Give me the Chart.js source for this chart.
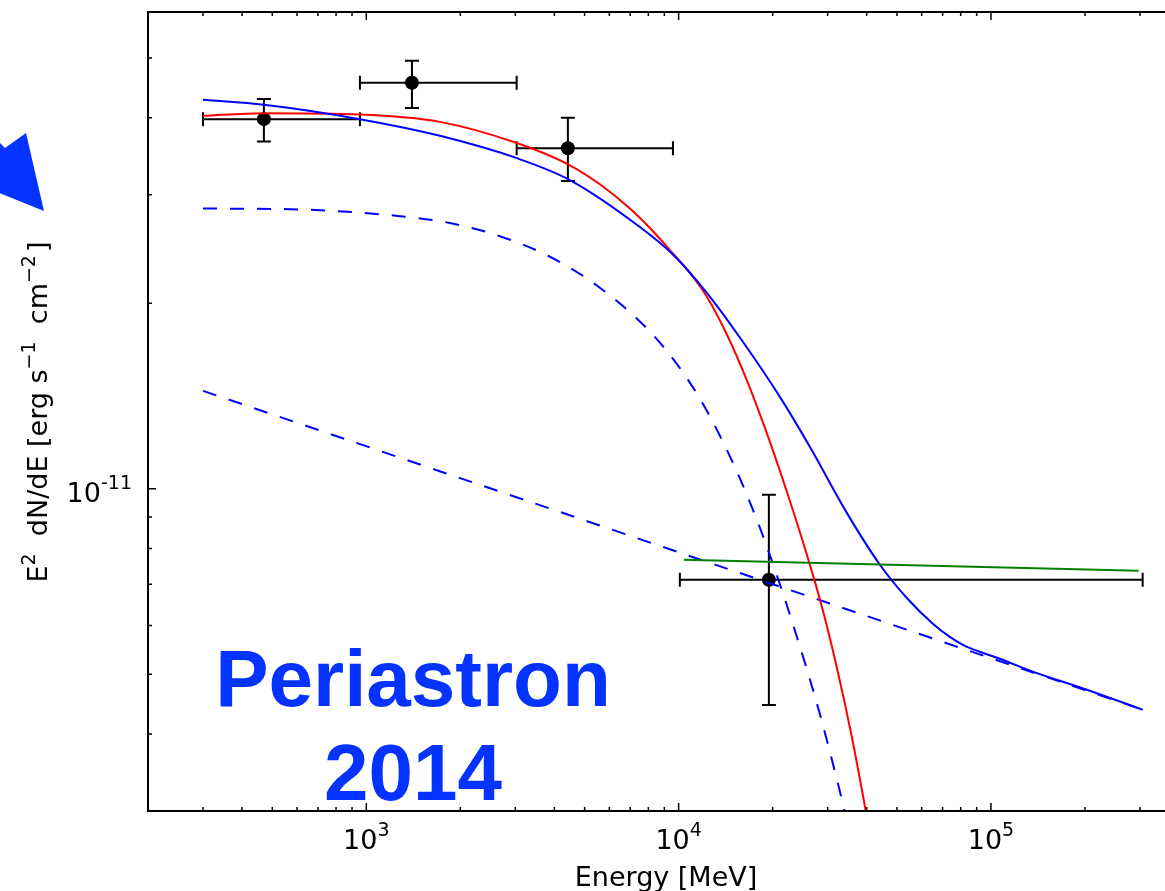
<!DOCTYPE html>
<html>
<head>
<meta charset="utf-8">
<title>Periastron 2014 SED</title>
<script src="https://cdn.jsdelivr.net/npm/chart.js@4.4.1/dist/chart.umd.min.js"></script>
<style>
  html, body { margin: 0; padding: 0; background: #fff; overflow: hidden; }
  canvas { display: block; }
</style>
</head>
<body>
<canvas id="sed" width="1200" height="891"></canvas>
<script>
// Fermi-LAT flux points (MeV, erg s^-1 cm^-2)
const energy = [470, 1400, 4420, 19450];
const flux = [3.98e-11, 4.56e-11, 3.57e-11, 7.12e-12];
const binLow = [300, 954, 3030, 10090];
const binHigh = [954, 3030, 9590, 306000];
const fluxLow = [3.66e-11, 4.15e-11, 3.16e-11, 4.46e-12];
const fluxHigh = [4.29e-11, 4.95e-11, 4.0e-11, 9.78e-12];

// total model (cutoff + power law)
const totalE = [300, 470, 954, 1721, 3035, 4486, 7516, 9585, 12312, 15707, 21097, 26310, 34557,
  44100, 53780, 65150, 73840, 82470, 92100, 106700, 136100, 202700, 306200];
const totalF = [4.28e-11, 4.20e-11, 3.98e-11, 3.74e-11, 3.44e-11, 3.17e-11, 2.66e-11, 2.40e-11, 2.08e-11,
  1.76e-11, 1.41e-11, 1.17e-11, 9.14e-12, 7.53e-12, 6.65e-12, 6.04e-12, 5.75e-12, 5.56e-12,
  5.44e-12, 5.30e-12, 5.05e-12, 4.72e-12, 4.38e-12];

// single cutoff model
const redE = [300, 467, 954, 1721, 3035, 4486, 5596, 6982, 8091, 9585, 10864, 12312, 14271, 16538,
  19170, 22210, 25733, 28740, 32103, 35850, 39740, 41240];
const redF = [4.03e-11, 4.07e-11, 4.05e-11, 3.94e-11, 3.64e-11, 3.35e-11, 3.12e-11, 2.85e-11, 2.65e-11,
  2.41e-11, 2.24e-11, 2.05e-11, 1.78e-11, 1.50e-11, 1.23e-11, 9.89e-12, 7.82e-12, 6.44e-12,
  5.13e-12, 3.96e-12, 3.00e-12, 2.70e-12];

// cutoff component
const cutE = [300, 613, 1281, 1852, 2678, 3872, 5596, 8091, 10092, 11700, 13553, 15707, 18199,
  21097, 24445, 28325, 32820, 35330];
const cutF = [2.85e-11, 2.84e-11, 2.77e-11, 2.70e-11, 2.57e-11, 2.38e-11, 2.12e-11, 1.80e-11, 1.57e-11,
  1.40e-11, 1.22e-11, 1.04e-11, 8.65e-12, 7.00e-12, 5.55e-12, 4.31e-12, 3.23e-12, 2.76e-12];

// power-law component
const plE = [300, 306200];
const plF = [1.442e-11, 4.38e-12];

// high energy power law
const greenE = [10400, 297000];
const greenF = [7.67e-12, 7.36e-12];

const xMajor = [1e3, 1e4, 1e5];
const xMajorExp = ['3', '4', '5'];
const yMajor = [1e-11];
const yMajorExp = ['-11'];

const BLUE_TXT = '#0433ff';
const MAIN = '27px "DejaVu Sans"';
const SUP = '19px "DejaVu Sans"';

function pts(xs, ys) {
  return xs.map((x, i) => ({ x: x, y: ys[i] }));
}

function curve(xs, ys, color, dash) {
  return {
    data: pts(xs, ys),
    showLine: true,
    borderColor: color,
    borderWidth: 2,
    borderDash: dash || [],
    pointRadius: 0,
    cubicInterpolationMode: 'monotone',
    fill: false
  };
}

function richWidth(ctx, runs) {
  let w = 0;
  runs.forEach(r => { ctx.font = r.font; w += ctx.measureText(r.t).width + (r.gap || 0); });
  return w;
}

function drawRich(ctx, runs, x, y, align) {
  const w = richWidth(ctx, runs);
  let cx = align === 'center' ? x - w / 2 : align === 'right' ? x - w : x;
  ctx.textAlign = 'left';
  ctx.textBaseline = 'alphabetic';
  runs.forEach(r => {
    ctx.font = r.font;
    ctx.fillText(r.t, cx, y - (r.rise || 0));
    cx += ctx.measureText(r.t).width + (r.gap || 0);
  });
}

// error bars under the markers
const errorBars = {
  id: 'errorBars',
  beforeDatasetsDraw(chart) {
    const ctx = chart.ctx, xs = chart.scales.x, ys = chart.scales.y;
    ctx.save();
    ctx.strokeStyle = '#000';
    ctx.lineWidth = 2;
    const cap = 7;
    energy.forEach((e, i) => {
      const px = xs.getPixelForValue(e), py = ys.getPixelForValue(flux[i]);
      const x0 = xs.getPixelForValue(binLow[i]), x1 = xs.getPixelForValue(binHigh[i]);
      const y0 = ys.getPixelForValue(fluxLow[i]), y1 = ys.getPixelForValue(fluxHigh[i]);
      ctx.beginPath();
      ctx.moveTo(x0, py); ctx.lineTo(x1, py);
      ctx.moveTo(x0, py - cap); ctx.lineTo(x0, py + cap);
      ctx.moveTo(x1, py - cap); ctx.lineTo(x1, py + cap);
      ctx.moveTo(px, y0); ctx.lineTo(px, y1);
      ctx.moveTo(px - cap, y0); ctx.lineTo(px + cap, y0);
      ctx.moveTo(px - cap, y1); ctx.lineTo(px + cap, y1);
      ctx.stroke();
    });
    ctx.restore();
  }
};

// box frame, inward ticks, labels and the slide annotation
const frame = {
  id: 'frame',
  afterDatasetsDraw(chart) {
    const ctx = chart.ctx, a = chart.chartArea;
    const xs = chart.scales.x, ys = chart.scales.y;
    ctx.save();
    ctx.strokeStyle = '#000';
    ctx.lineWidth = 2;
    ctx.strokeRect(a.left, a.top, a.right - a.left, a.bottom - a.top);

    ctx.lineWidth = 1.5;
    ctx.beginPath();
    for (let d = 100; d <= 1e6; d *= 10) {
      for (let m = 1; m <= 9; m++) {
        const v = d * m;
        if (v < xs.min || v > xs.max) continue;
        const len = m === 1 ? 8 : 4;
        const px = xs.getPixelForValue(v);
        ctx.moveTo(px, a.bottom); ctx.lineTo(px, a.bottom - len);
        ctx.moveTo(px, a.top); ctx.lineTo(px, a.top + len);
      }
    }
    for (let d = 1e-12; d <= 1e-10; d *= 10) {
      for (let m = 1; m <= 9; m++) {
        const v = d * m;
        if (v < ys.min || v > ys.max) continue;
        const len = m === 1 ? 8 : 4;
        const py = ys.getPixelForValue(v);
        ctx.moveTo(a.left, py); ctx.lineTo(a.left + len, py);
        ctx.moveTo(a.right, py); ctx.lineTo(a.right - len, py);
      }
    }
    ctx.stroke();

    ctx.fillStyle = '#000';
    xMajor.forEach((v, i) => {
      drawRich(ctx, [{ t: '10', font: MAIN }, { t: xMajorExp[i], font: SUP, rise: 13 }],
        xs.getPixelForValue(v), 849, 'center');
    });
    yMajor.forEach((v, i) => {
      drawRich(ctx, [{ t: '10', font: MAIN }, { t: yMajorExp[i], font: SUP, rise: 13 }],
        132, ys.getPixelForValue(v) + 13, 'right');
    });

    ctx.font = MAIN;
    ctx.textAlign = 'center';
    ctx.textBaseline = 'alphabetic';
    ctx.fillText('Energy [MeV]', 666, 886);

    ctx.save();
    ctx.translate(47, 412);
    ctx.rotate(-Math.PI / 2);
    drawRich(ctx, [
      { t: 'E', font: MAIN },
      { t: '2', font: SUP, rise: 12 },
      { t: '  dN/dE [erg s', font: MAIN },
      { t: '\u22121', font: SUP, rise: 12 },
      { t: '  cm', font: MAIN },
      { t: '\u22122', font: SUP, rise: 12, gap: 3 },
      { t: ']', font: MAIN }
    ], 0, 0, 'center');
    ctx.restore();

    // annotation
    ctx.fillStyle = BLUE_TXT;
    ctx.font = 'bold 80px "Liberation Sans"';
    ctx.textAlign = 'center';
    ctx.fillText('Periastron', 413, 706);
    ctx.fillText('2014', 413, 800);

    ctx.beginPath();
    ctx.moveTo(-30, 113);
    ctx.lineTo(5, 148);
    ctx.lineTo(26, 133);
    ctx.lineTo(44, 211);
    ctx.lineTo(-30, 181);
    ctx.closePath();
    ctx.fill();
    ctx.restore();
  }
};

new Chart(document.getElementById('sed').getContext('2d'), {
  type: 'scatter',
  data: {
    datasets: [
      curve(greenE, greenF, '#008000'),
      curve(totalE, totalF, '#0000ff'),
      curve(redE, redF, '#ff0000'),
      curve(cutE, cutF, '#0000ff', [14, 13]),
      curve(plE, plF, '#0000ff', [14, 13]),
      {
        data: pts(energy, flux),
        showLine: false,
        pointRadius: 7,
        pointBackgroundColor: '#000',
        pointBorderWidth: 0
      }
    ]
  },
  options: {
    responsive: false,
    animation: false,
    devicePixelRatio: 1,
    events: [],
    layout: { padding: { left: 148, top: 12, right: 21, bottom: 80 } },
    plugins: { legend: { display: false }, tooltip: { enabled: false } },
    scales: {
      x: { type: 'logarithmic', min: 200, max: 4e5, bounds: 'data', display: false },
      y: { type: 'logarithmic', min: 3e-12, max: 5.94e-11, bounds: 'data', display: false }
    }
  },
  plugins: [errorBars, frame]
});
</script>
</body>
</html>
